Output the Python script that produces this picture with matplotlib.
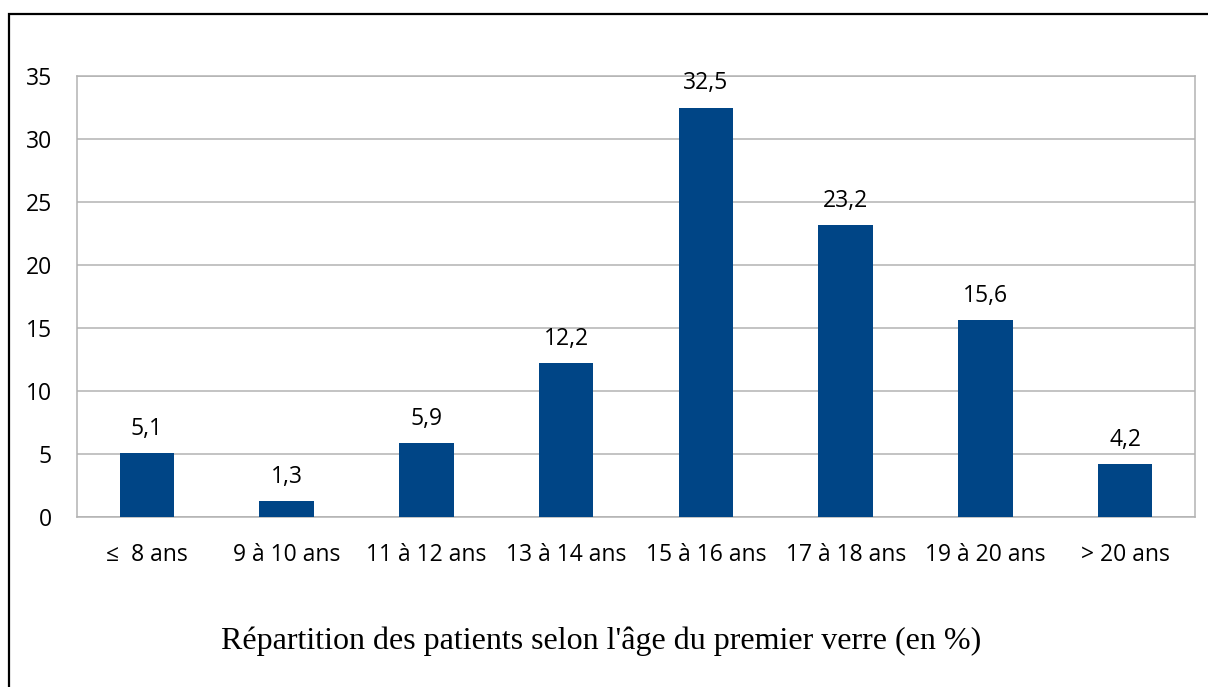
import matplotlib
matplotlib.use("Agg")
import matplotlib.pyplot as plt
from matplotlib.patches import Rectangle

categories = ["≤  8 ans", "9 à 10 ans", "11 à 12 ans", "13 à 14 ans",
              "15 à 16 ans", "17 à 18 ans", "19 à 20 ans", "> 20 ans"]
values = [5.1, 1.3, 5.9, 12.2, 32.5, 23.2, 15.6, 4.2]
labels = ["5,1", "1,3", "5,9", "12,2", "32,5", "23,2", "15,6", "4,2"]
yticks = [0, 5, 10, 15, 20, 25, 30, 35]
title = "Répartition des patients selon l'âge du premier verre (en %)"

plt.rcParams['font.family'] = ['Open Sans', 'DejaVu Sans']

W, H = 1208, 687
fig = plt.figure(figsize=(W / 100, H / 100), dpi=100)
ax = fig.add_axes([77 / W, 170 / H, (1195 - 77) / W, 441 / H])

x = list(range(len(categories)))
bars = ax.bar(x, values, width=0.39, color="#004586", zorder=3)
for xi, v, lab in zip(x, values, labels):
    ax.annotate(lab, (xi, v), xytext=(0, 13), textcoords="offset points",
                ha="center", va="baseline", fontsize=16.5, color="#000000")

ax.set_xlim(-0.5, len(categories) - 0.5)
ax.set_ylim(0, 35)
ax.set_yticks(yticks)
ax.set_yticklabels([str(t) for t in yticks])
ax.set_xticks(x)
ax.set_xticklabels(categories)
ax.tick_params(axis="both", length=0, labelsize=16.5, colors="#000000")
ax.tick_params(axis="y", pad=18)
ax.tick_params(axis="x", pad=19)
ax.grid(axis="y", color="#b3b3b3", linewidth=1.1, zorder=0)
for s in ax.spines.values():
    s.set_color("#b3b3b3")
    s.set_linewidth(1.1)

fig.text(601 / W, 1 - 641 / H, title, ha="center", va="center",
         fontsize=23, family="Liberation Serif", color="#000000")

# outer frame (only left and top edges visible)
fig.patches.append(Rectangle((8.5 / W, -0.2), 1.5, 1.2 - 13.5 / H,
                             transform=fig.transFigure, fill=False,
                             edgecolor="black", linewidth=1.6))

fig.savefig("out.png", dpi=100)
